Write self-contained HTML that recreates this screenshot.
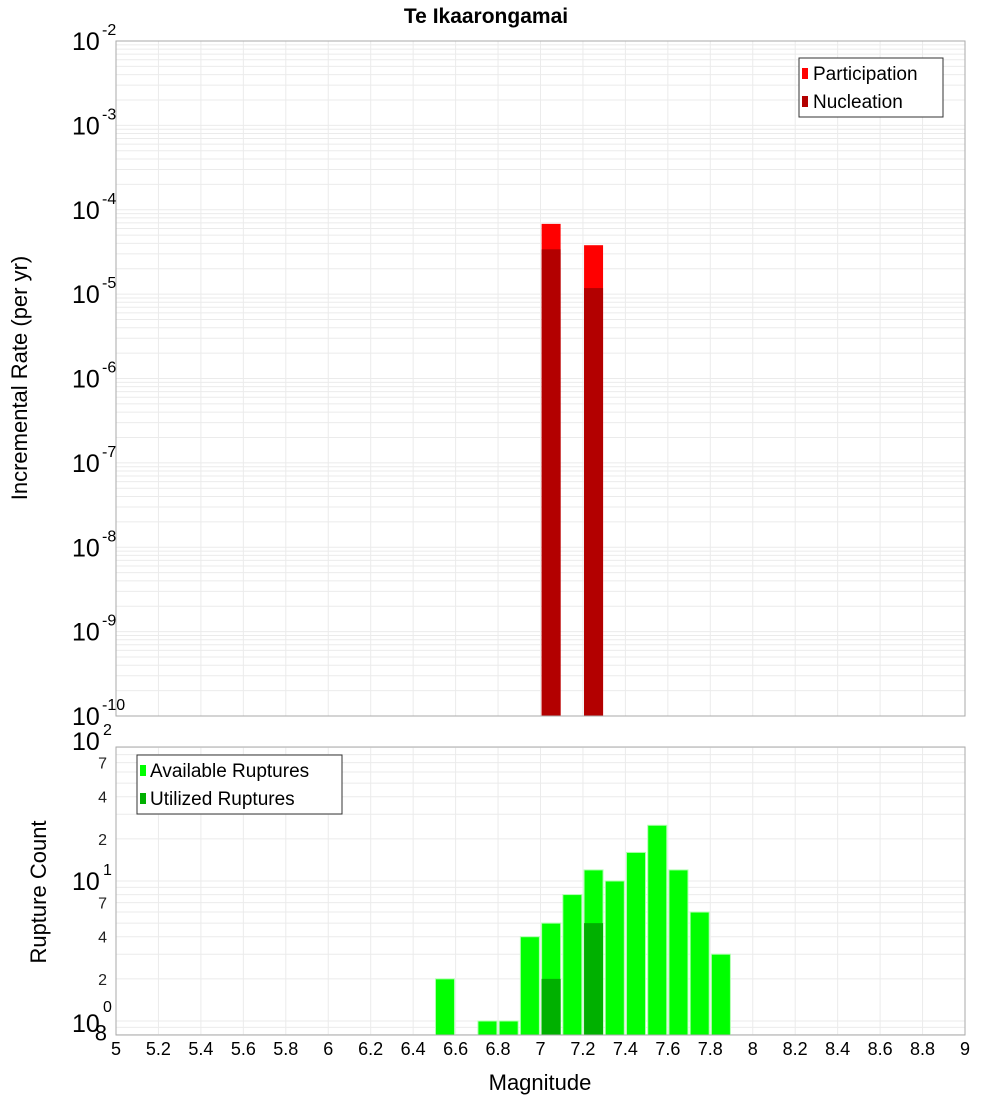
<!DOCTYPE html>
<html><head><meta charset="utf-8"><style>
html,body{margin:0;padding:0;background:#fff;}
svg{display:block;font-family:"Liberation Sans","DejaVu Sans",sans-serif;}
</style></head><body>
<svg id="c" width="1000" height="1100" xmlns="http://www.w3.org/2000/svg">
<text x="486" y="23" text-anchor="middle" font-size="21" font-weight="bold">Te Ikaarongamai</text>
<g id="top"></g><g id="bot"></g>
<text transform="translate(27,378) rotate(-90)" text-anchor="middle" font-size="22">Incremental Rate (per yr)</text>
<text transform="translate(46,892) rotate(-90)" text-anchor="middle" font-size="22">Rupture Count</text>
<text x="540" y="1090" text-anchor="middle" font-size="22">Magnitude</text>
</svg>
<script>
const rateMags=[7.05,7.25];
const participation=[6.8e-5,3.8e-5];
const nucleation=[3.4e-5,1.18e-5];
const countMags=[6.55,6.75,6.85,6.95,7.05,7.15,7.25,7.35,7.45,7.55,7.65,7.75,7.85];
const available=[2,1,1,4,5,8,12,10,16,25,12,6,3];
const utilizedMags=[7.05,7.25];
const utilized=[2,5];
const xTicks=[5,5.2,5.4,5.6,5.8,6,6.2,6.4,6.6,6.8,7,7.2,7.4,7.6,7.8,8,8.2,8.4,8.6,8.8,9];
const topExps=[-2,-3,-4,-5,-6,-7,-8,-9,-10];

const NS="http://www.w3.org/2000/svg";
const svg=document.getElementById('c');
const X0=116,X1=965;
const xs=m=>X0+(m-5)/4*(X1-X0);
const T0=41,T1=716;
const yTop=v=>T0+(-2-Math.log10(v))*(T1-T0)/8;
const B0=747,B1=1035;
const yBot=v=>1021-Math.log10(v)*140;
function mk(tag,attrs,parent,name){const e=document.createElementNS(NS,tag);for(const k in attrs)e.setAttribute(k,attrs[k]);(parent||svg).appendChild(e);


return e;}
const gt=document.getElementById('top'),gb=document.getElementById('bot');
// grids
for(let m=5.2;m<9;m+=0.2){const x=xs(m);mk('line',{x1:x,x2:x,y1:T0,y2:T1,stroke:'#ebebeb'},gt,'top-x-grid');mk('line',{x1:x,x2:x,y1:B0,y2:B1,stroke:'#ebebeb'},gb,'bottom-x-grid');}
for(let e=-10;e<-2;e++){for(let k=1;k<10;k++){const y=yTop(k*Math.pow(10,e));if(y>T0&&y<T1)mk('line',{x1:X0,x2:X1,y1:y,y2:y,stroke:'#ebebeb'},gt,'top-y-grid');}}
for(let e=-1;e<2;e++){for(let k=1;k<10;k++){const y=yBot(k*Math.pow(10,e));if(y>B0&&y<B1)mk('line',{x1:X0,x2:X1,y1:y,y2:y,stroke:'#ebebeb'},gb,'bottom-y-grid');}}
// top bars
const bw=19;
rateMags.forEach((m,i)=>{const x=xs(m)-bw/2;
const yp=yTop(participation[i]);mk('rect',{x:x,y:yp,width:bw,height:T1-yp,fill:'#ff0000'},gt,'participation-bar');
const yn=yTop(nucleation[i]);mk('rect',{x:x,y:yn,width:bw,height:T1-yn,fill:'#b30000'},gt,'nucleation-bar');});
// bottom bars
countMags.forEach((m,i)=>{const y=yBot(available[i]);mk('rect',{x:xs(m)-bw/2,y:y,width:bw,height:B1-y,fill:'#00ff00',stroke:'#b0ffb0','stroke-width':1},gb,'available-bar');});
utilizedMags.forEach((m,i)=>{const y=yBot(utilized[i]);mk('rect',{x:xs(m)-bw/2,y:y,width:bw,height:B1-y,fill:'#00b000'},gb,'utilized-bar');});
// frames
mk('rect',{x:X0,y:T0,width:X1-X0,height:T1-T0,fill:'none',stroke:'#aaa'},gt,'top-plot-frame');
mk('rect',{x:X0,y:B0,width:X1-X0,height:B1-B0,fill:'none',stroke:'#aaa'},gb,'bottom-plot-frame');
// top y labels
topExps.forEach(e=>{const y=yTop(Math.pow(10,e));const t=mk('text',{x:72,y:y+9,'font-size':25},gt,'top-y-tick-label');t.textContent='10';
const s=mk('text',{x:102,y:y-6,'font-size':16},gt,'top-y-tick-exponent');s.textContent=String(e);});
// bottom y labels
[[100,'2'],[10,'1'],[1,'0']].forEach(([v,e])=>{const y=yBot(v);const t=mk('text',{x:72,y:y+9+(v==1?2:0),'font-size':25},gb,'bottom-y-tick-label');t.textContent='10';
const s=mk('text',{x:103,y:y-6+(v==1?-3:0),'font-size':16},gb,'bottom-y-tick-exponent');s.textContent=e;});
[[70,'7'],[40,'4'],[20,'2'],[7,'7'],[4,'4'],[2,'2'],[0.8,'8']].forEach(([v,l])=>{const y=yBot(v);const t=mk('text',{x:107,y:y+6,'font-size':v==0.8?22:16,'text-anchor':'end',fill:v==0.8?'#000':'#222'},gb,'bottom-y-minor-label');t.textContent=l;});
// x labels
xTicks.forEach(m=>{const t=mk('text',{x:xs(m),y:1055,'font-size':18,'text-anchor':'middle'},gb,'x-tick-label');t.textContent=String(m);});
// legends
mk('rect',{x:799,y:58,width:144,height:59,fill:'#fff',stroke:'#333'},gt,'top-legend');
mk('rect',{x:802,y:68,width:6,height:11,fill:'#ff0000'},gt,'legend-participation-swatch');
let t=mk('text',{x:813,y:80,'font-size':19},gt,'legend-participation');t.textContent='Participation';
mk('rect',{x:802,y:96,width:6,height:11,fill:'#b30000'},gt,'legend-nucleation-swatch');
t=mk('text',{x:813,y:108,'font-size':19},gt,'legend-nucleation');t.textContent='Nucleation';
mk('rect',{x:137,y:755,width:205,height:59,fill:'#fff',stroke:'#333'},gb,'bottom-legend');
mk('rect',{x:140,y:765,width:6,height:11,fill:'#00ff00'},gb,'legend-available-swatch');
t=mk('text',{x:150,y:777,'font-size':19},gb,'legend-available');t.textContent='Available Ruptures';
mk('rect',{x:140,y:793,width:6,height:11,fill:'#00b000'},gb,'legend-utilized-swatch');
t=mk('text',{x:150,y:805,'font-size':19},gb,'legend-utilized');t.textContent='Utilized Ruptures';
</script>
</body></html>
